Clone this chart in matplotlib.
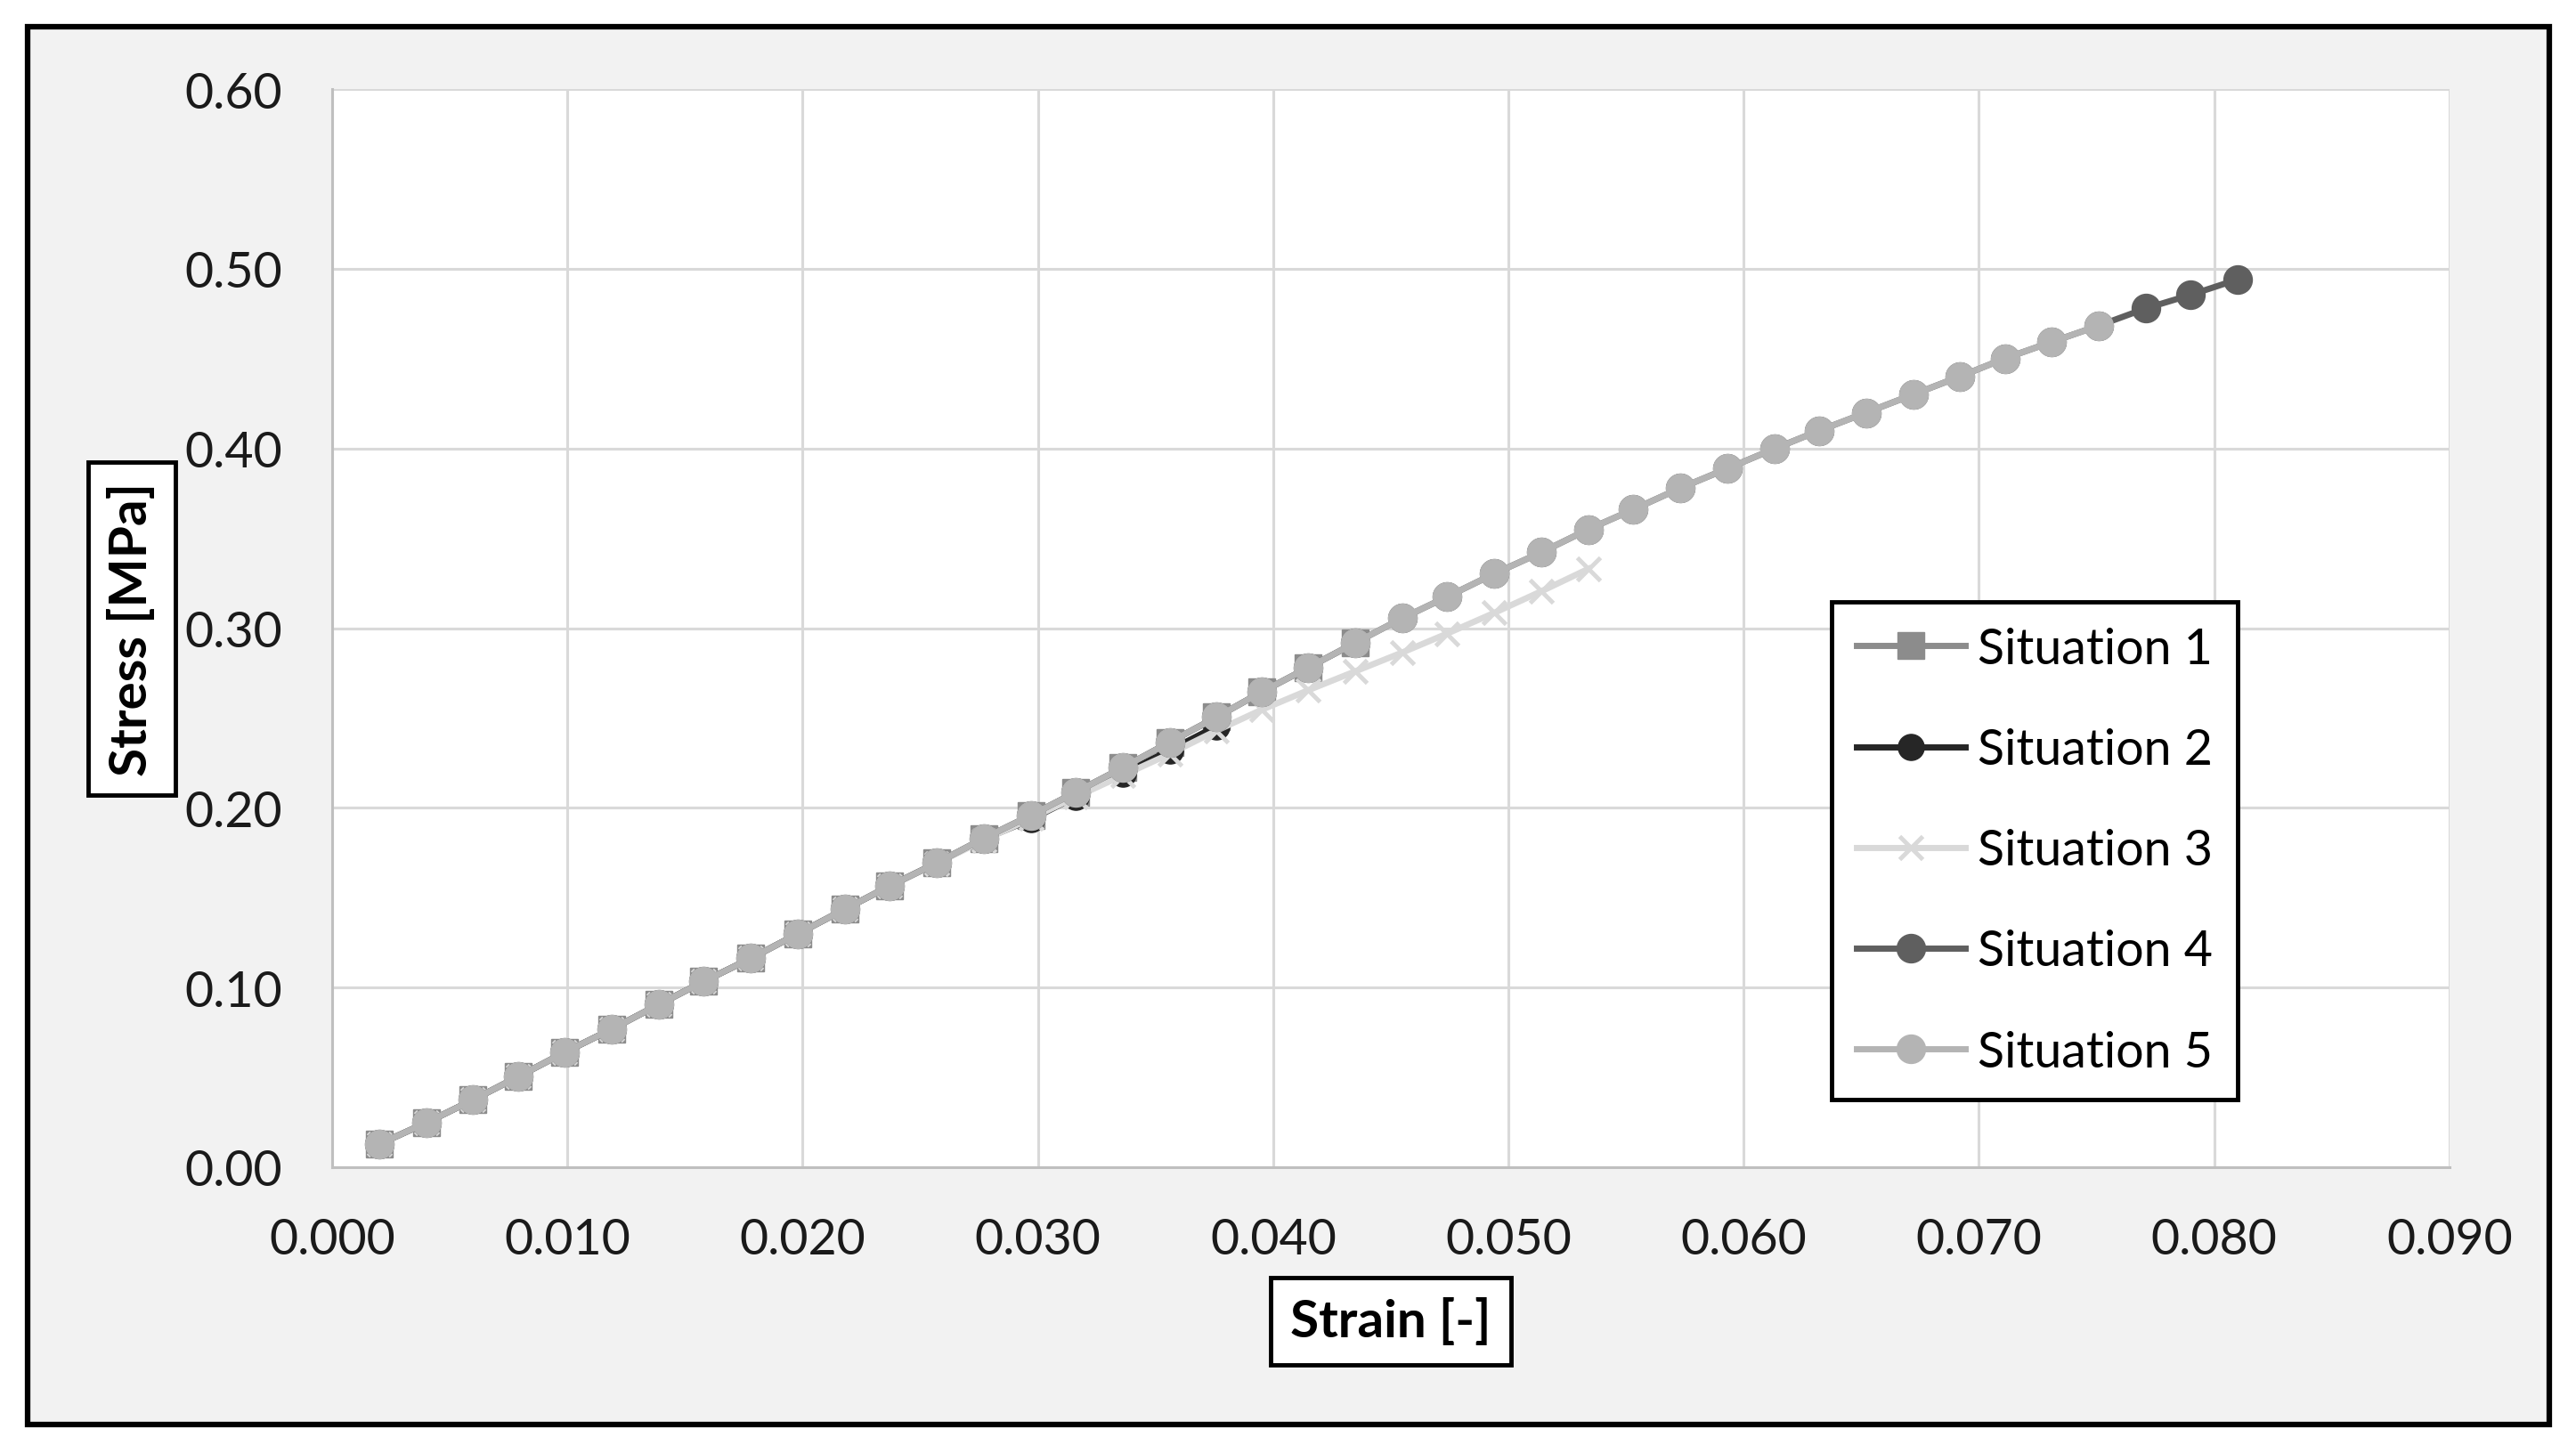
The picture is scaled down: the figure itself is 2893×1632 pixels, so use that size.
import matplotlib
matplotlib.use('Agg')
import matplotlib.pyplot as plt
from matplotlib.patches import Rectangle
from matplotlib.ticker import FormatStrFormatter, MultipleLocator

plt.rcParams['font.family'] = ['Lato', 'DejaVu Sans']

strain = [0.0020, 0.0040, 0.0060, 0.0079, 0.0099, 0.0119, 0.0139, 0.0158, 0.0178, 0.0198,
          0.0218, 0.0237, 0.0257, 0.0277, 0.0297, 0.0316, 0.0336, 0.0356, 0.0376, 0.0395,
          0.0415, 0.0435, 0.0455, 0.0474, 0.0494, 0.0514, 0.0534, 0.0553, 0.0573, 0.0593,
          0.0613, 0.0632, 0.0652, 0.0672, 0.0692, 0.0711, 0.0731, 0.0751, 0.0771, 0.0790,
          0.0810]

stress_1 = [0.0128, 0.0247, 0.0375, 0.0503, 0.0640, 0.0769, 0.0906, 0.1034, 0.1162, 0.1299,
            0.1436, 0.1565, 0.1693, 0.1830, 0.1958, 0.2086, 0.2223, 0.2365, 0.2505, 0.2644,
            0.2781, 0.2919]
stress_2 = [0.0128, 0.0247, 0.0375, 0.0503, 0.0640, 0.0769, 0.0906, 0.1034, 0.1162, 0.1299,
            0.1436, 0.1565, 0.1693, 0.1825, 0.1935, 0.2060, 0.2190, 0.2320, 0.2455]
stress_3 = [0.0128, 0.0247, 0.0375, 0.0503, 0.0640, 0.0769, 0.0906, 0.1034, 0.1162, 0.1299,
            0.1436, 0.1565, 0.1690, 0.1820, 0.1940, 0.2060, 0.2180, 0.2300, 0.2430, 0.2545,
            0.2655, 0.2760, 0.2865, 0.2970, 0.3085, 0.3205, 0.3330]
stress_5 = [0.0128, 0.0247, 0.0375, 0.0503, 0.0640, 0.0769, 0.0906, 0.1034, 0.1162, 0.1299,
            0.1436, 0.1565, 0.1693, 0.1830, 0.1958, 0.2086, 0.2223, 0.2365, 0.2505, 0.2644,
            0.2781, 0.2919, 0.3056, 0.3175, 0.3303, 0.3422, 0.3550, 0.3660, 0.3779, 0.3888,
            0.3998, 0.4099, 0.4199, 0.4300, 0.4401, 0.4501, 0.4593, 0.4684]
stress_4 = stress_5 + [0.4780, 0.4855, 0.4941]

labels = ['Situation 1', 'Situation 2', 'Situation 3', 'Situation 4', 'Situation 5']

fig = plt.figure(figsize=(28.93, 16.33), dpi=100)
fig.patch.set_facecolor('white')
fig.patches.append(Rectangle((0.0107, 0.0196), 0.9789, 0.9614, transform=fig.transFigure,
                             facecolor='#f2f2f2', edgecolor='black', linewidth=4.5, zorder=-5))

ax = fig.add_axes([0.1289, 0.1966, 0.8220, 0.7415])
ax.set_facecolor('white')

ax.plot(strain[:len(stress_1)], stress_1, color='#8c8c8c', lw=5, marker='s', ms=21,
        label=labels[0])
ax.plot(strain[:len(stress_2)], stress_2, color='#262626', lw=5, marker='o', ms=21,
        label=labels[1])
ax.plot(strain[:len(stress_3)], stress_3, color='#d9d9d9', lw=5, marker='x', ms=19,
        mew=3.5, label=labels[2])
ax.plot(strain[:len(stress_4)], stress_4, color='#5f5f5f', lw=5, marker='o', ms=23,
        label=labels[3])
ax.plot(strain[:len(stress_5)], stress_5, color='#b4b4b4', lw=5, marker='o', ms=23,
        label=labels[4])

ax.set_xlim(0, 0.09)
ax.set_ylim(0, 0.6)
ax.xaxis.set_major_locator(MultipleLocator(0.01))
ax.yaxis.set_major_locator(MultipleLocator(0.1))
ax.xaxis.set_major_formatter(FormatStrFormatter('%.3f'))
ax.yaxis.set_major_formatter(FormatStrFormatter('%.2f'))
ax.tick_params(axis='both', length=0, labelsize=40, labelcolor='#1a1a1a')
ax.tick_params(axis='x', pad=40)
ax.tick_params(axis='y', pad=40)
ax.grid(True, color='#d9d9d9', lw=2.2)
ax.set_axisbelow(True)
for side in ['top', 'right']:
    ax.spines[side].set_visible(False)
for side in ['left', 'bottom']:
    ax.spines[side].set_color('#bfbfbf')
    ax.spines[side].set_linewidth(2.2)

box = dict(boxstyle='square,pad=0.38', facecolor='white', edgecolor='black', linewidth=3.5)
fig.text(0.0511, 0.567, 'Stress [MPa]', rotation=90, ha='center', va='center',
         fontsize=42, fontweight='bold', bbox=box)
fig.text(0.540, 0.0906, 'Strain [-]', ha='center', va='center',
         fontsize=42, fontweight='bold', bbox=box)

leg = ax.legend(loc='upper left', bbox_to_anchor=(0.711, 0.5854), bbox_transform=fig.transFigure,
                fontsize=40, frameon=True, fancybox=False, framealpha=1, edgecolor='black',
                borderpad=0.5, labelspacing=1.12, handlelength=2.2, handletextpad=0.25,
                borderaxespad=0)
leg.get_frame().set_linewidth(3.5)

fig.savefig('out.png', dpi=100, facecolor='white')
